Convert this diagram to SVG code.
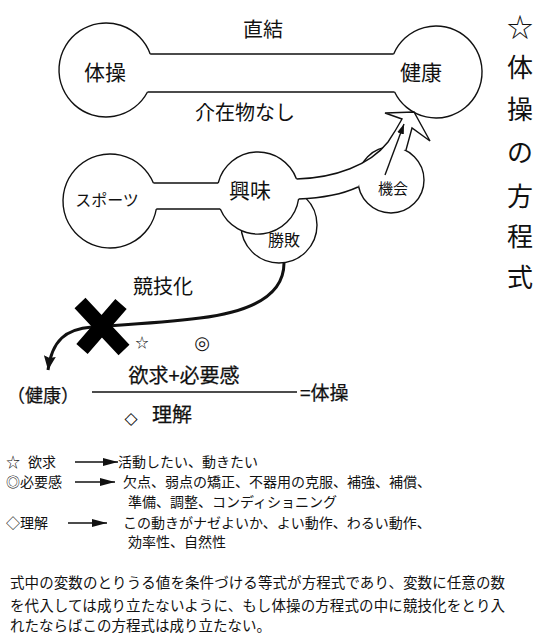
<svg xmlns="http://www.w3.org/2000/svg" width="550" height="641" viewBox="0 0 550 641">
<style>
  text { font-family: "Noto Sans CJK JP", "Noto Sans", sans-serif; fill: #111; }
  .ln { fill: none; stroke: #111; stroke-width: 1.4; }
  .wf { fill: #fff; stroke: #111; stroke-width: 1.4; }
  .wh { fill: #fff; stroke: none; }
  .m { text-anchor: middle; }
  .lab { font-size: 21px; }
  .heavy { stroke: #111; stroke-width: 0.25; }
  .sym { font-family: "DejaVu Sans", sans-serif; }
  .leg { font-size: 14px; }
  .par { font-size: 14.5px; }
  .ttl { font-size: 26px; text-anchor: middle; }
</style>
<defs>
  <marker id="headBig" markerUnits="userSpaceOnUse" viewBox="0 0 14 12" refX="14" refY="6" markerWidth="14" markerHeight="12" orient="auto">
    <path d="M0,0 L14,6 L0,12 L2,6 z" fill="#111"/>
  </marker>
  <marker id="headLeg" markerUnits="userSpaceOnUse" viewBox="0 0 15 8" refX="15" refY="4" markerWidth="15" markerHeight="8" orient="auto">
    <path d="M0,0 L15,4 L0,8 z" fill="#111"/>
  </marker>
  <marker id="headThin" markerUnits="userSpaceOnUse" viewBox="0 0 10 7" refX="10" refY="3.5" markerWidth="10" markerHeight="7" orient="auto">
    <path d="M0,0 L10,3.5 L0,7 z" fill="#111"/>
  </marker>
</defs>

<!-- Top dumbbell -->
<g id="node-taiso">
  <path class="ln" d="M150.2,54 A47,47 0 1 0 147.5,92"/>
  <text class="lab m" x="105" y="79.5">体操</text>
</g>
<g id="node-kenko">
  <path class="ln" d="M393.7,54 A46,46 0 1 1 394.6,92"/>
  <text class="lab m" x="421" y="79.5">健康</text>
</g>

<!-- Middle nodes -->
<g id="node-sports">
  <path class="ln" d="M153.4,183 A47,47 0 1 0 156.3,209"/>
  <text class="m" font-size="16" x="107" y="206">スポーツ</text>
</g>
<g id="node-shohai">
  <circle class="wf" cx="279" cy="225" r="38"/>
</g>
<g id="node-kyomi">
  <circle class="wh" cx="258" cy="193" r="41"/>
  <path class="ln" d="M218.2,183 A41,41 0 0 1 296.5,179"/>
  <path class="ln" d="M298.6,199 A41,41 0 0 1 220.25,209"/>
  <text class="lab m" x="250" y="197.5">興味</text>
</g>
<g id="node-kikai">
  <circle class="wf" cx="391" cy="180" r="33"/>
</g>

<g id="connectors">
  <!-- top bar -->
  <path class="ln" d="M150.2,54 H393.7 M147.5,92 H394.6"/>
  <!-- sports-kyomi bar -->
  <path class="ln" d="M153.4,183 H218.2 M156.3,209 H220.25"/>
  <!-- hollow curved arrow from kyomi to kenko -->
  <path class="wh" d="M294,179 C335,178 370,165 388,142 Q396,130 402,119 L385,113 L414,112 L430,141 L412,128 L407,149 L395,153 L375,163 L362,178 L358,187 C345,193 325,198 294,199 Z"/>
  <path class="ln" d="M296.5,179 C335,178 370,165 388,142 Q396,130 402,119 L385,113 L414,112 L430,141 L412,128 L406,150"/>
  <path class="ln" d="M298.6,199 C325,198 345,193 358,187"/>
  <!-- thin arrow from kikai -->
  <path class="ln" stroke-width="1.3" d="M385,175 L404,124" marker-end="url(#headThin)"/>
  <!-- competition curve -->
  <path fill="none" stroke="#111" stroke-width="3" d="M284,263 C284,296 250,312 200,318 C160,323 120,325 92,327 C66,329 52,340 48,370" marker-end="url(#headBig)"/>
  <!-- big X -->
  <path fill="none" stroke="#000" stroke-width="15" d="M80,303 L124,350 M121,304 L82,349"/>
</g>

<g id="node-labels">
  <text class="m" font-size="20" x="263" y="37">直結</text>
  <text class="m" font-size="20" x="245" y="120">介在物なし</text>
  <text class="m" font-size="16" x="284" y="246">勝敗</text>
  <text class="m" font-size="15" x="393" y="193.5">機会</text>
  <text class="m" font-size="20" x="163" y="294">競技化</text>
</g>

<!-- Formula -->
<g id="formula">
  <text class="m" font-size="13" x="142" y="347">☆</text>
  <text class="m sym" font-size="18" x="202" y="349">◎</text>
  <text class="m heavy" font-size="18" x="43" y="401.5">（健康）</text>
  <text class="m heavy" font-size="20" x="184" y="383">欲求+必要感</text>
  <line class="ln" x1="92" y1="392" x2="297" y2="392"/>
  <text class="heavy" font-size="19" x="300" y="400">=体操</text>
  <text class="m sym" font-size="17" x="131" y="424">◇</text>
  <text class="m heavy" font-size="20" x="172" y="422">理解</text>
</g>

<!-- Legend -->
<g id="legend">
  <text class="leg m" font-size="13" x="13" y="467">☆</text>
  <text class="leg" x="28" y="467">欲求</text>
  <line class="ln" stroke-width="1.3" x1="75" y1="462" x2="118" y2="462" marker-end="url(#headLeg)"/>
  <text class="leg" x="118" y="467">活動したい、動きたい</text>

  <text class="leg" x="6" y="487">◎必要感</text>
  <line class="ln" stroke-width="1.3" x1="75" y1="482" x2="115" y2="482" marker-end="url(#headLeg)"/>
  <text class="leg" x="123" y="487">欠点、弱点の矯正、不器用の克服、補強、補償、</text>
  <text class="leg" x="128" y="507">準備、調整、コンディショニング</text>

  <text class="leg" x="6" y="528">◇理解</text>
  <line class="ln" stroke-width="1.3" x1="68" y1="523" x2="107" y2="523" marker-end="url(#headLeg)"/>
  <text class="leg" x="123" y="528">この動きがナゼよいか、よい動作、わるい動作、</text>
  <text class="leg" x="128" y="547">効率性、自然性</text>
</g>

<!-- Paragraph -->
<g id="paragraph">
  <text class="par" x="10" y="588" textLength="495" lengthAdjust="spacing">式中の変数のとりうる値を条件づける等式が方程式であり、変数に任意の数</text>
  <text class="par" x="10" y="611" textLength="495" lengthAdjust="spacing">を代入しては成り立たないように、もし体操の方程式の中に競技化をとり入</text>
  <text class="par" x="10" y="631">れたならばこの方程式は成り立たない。</text>
</g>

<!-- Vertical title -->
<g id="title">
  <text class="ttl" x="520" y="37">☆</text>
  <text class="ttl" x="520" y="77">体</text>
  <text class="ttl" x="520" y="119">操</text>
  <text class="ttl" x="520" y="162">の</text>
  <text class="ttl" x="520" y="206">方</text>
  <text class="ttl" x="520" y="246">程</text>
  <text class="ttl" x="520" y="287">式</text>
</g>
</svg>
